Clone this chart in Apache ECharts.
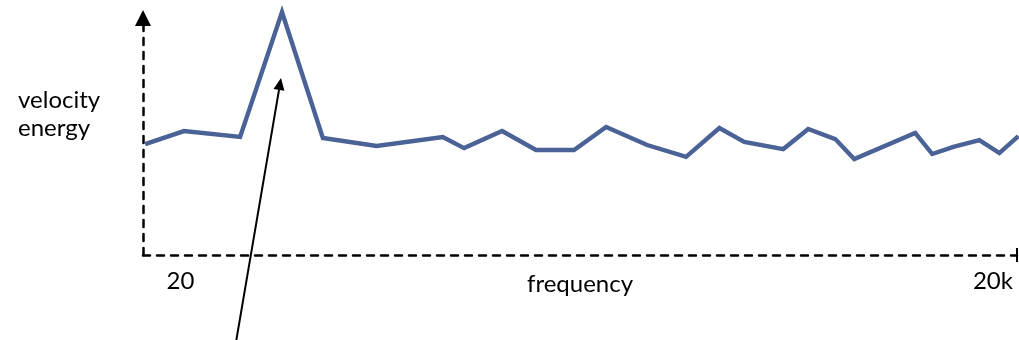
<!DOCTYPE html>
<html>
<head>
<meta charset="utf-8">
<script src="https://cdn.jsdelivr.net/npm/echarts@6/dist/echarts.min.js"></script>
<style>
html,body{margin:0;padding:0;background:#fff;}
#chart{width:1019px;height:340px;}
</style>
</head>
<body>
<div id="chart"></div>
<script>
// frequency (Hz) of each point of the curve
var frequencies = [14.8, 20.6, 33.2, 47.4, 67.1, 106, 186, 223, 308, 411, 568, 746, 1057, 1472, 1954, 2415, 3365, 4159, 5236, 6152, 10328, 11940, 14290, 17820, 21130, 24830];
// velocity energy (arbitrary units)
var energy = [4.68, 5.23, 4.98, 10.25, 4.94, 4.60, 4.98, 4.51, 5.23, 4.43, 4.43, 5.40, 4.64, 4.14, 5.36, 4.77, 4.47, 5.32, 4.89, 4.05, 5.15, 4.26, 4.56, 4.85, 4.30, 5.02];
// tick labels on the frequency axis
var tickFreqs = [20, 20000];
var tickLabels = ['20', '20k'];

var FONT = 'Lato';
var logTicks = tickFreqs.map(function (f) { return Math.log10(f); });
var seriesData = frequencies.map(function (f, i) { return [Math.log10(f), energy[i]]; });

var chart = echarts.init(document.getElementById('chart'));
chart.setOption({
  animation: false,
  backgroundColor: '#ffffff',
  grid: { left: 143, right: 2, top: 18, bottom: 85 },
  xAxis: {
    type: 'value',
    min: 1.1625,
    max: 4.390,
    name: 'frequency',
    nameLocation: 'middle',
    nameGap: 17,
    nameMoveOverlap: false,
    nameTextStyle: { fontFamily: FONT, fontSize: 24, color: '#000' },
    axisLine: {
      show: true,
      symbol: ['none', 'rect'],
      symbolSize: [14, 2],
      lineStyle: { color: '#000', width: 2.5, type: [7, 7] }
    },
    axisTick: { show: false },
    splitLine: { show: false },
    axisLabel: {
      customValues: logTicks,
      margin: 14,
      fontFamily: FONT,
      fontSize: 24,
      color: '#000',
      formatter: function (v) {
        for (var i = 0; i < logTicks.length; i++) {
          if (Math.abs(v - logTicks[i]) < 1e-6) return tickLabels[i];
        }
        return '';
      }
    }
  },
  yAxis: {
    type: 'value',
    min: 0,
    max: 10,
    axisLine: {
      show: true,
      symbol: ['none', 'triangle'],
      symbolSize: [16, 16],
      lineStyle: { color: '#000', width: 2.5, type: [7, 7] }
    },
    axisTick: { show: false },
    axisLabel: { show: false },
    splitLine: { show: false }
  },
  graphic: [
    {
      type: 'text',
      left: 18,
      top: 86,
      style: {
        text: 'velocity\nenergy',
        fontFamily: FONT,
        fontSize: 24,
        lineHeight: 28,
        fill: '#000'
      }
    },
    {
      type: 'line',
      shape: { x1: 236, y1: 342, x2: 279, y2: 89.8 },
      style: { stroke: '#000', lineWidth: 2 }
    },
    {
      type: 'polygon',
      shape: { points: [[281, 78], [284.4, 90.8], [273.5, 88.9]] },
      style: { fill: '#000' }
    }
  ],
  series: [{
    type: 'line',
    data: seriesData,
    clip: false,
    symbol: 'none',
    lineStyle: { color: '#4a6296', width: 4.4, join: 'miter' }
  }]
});
</script>
</body>
</html>
